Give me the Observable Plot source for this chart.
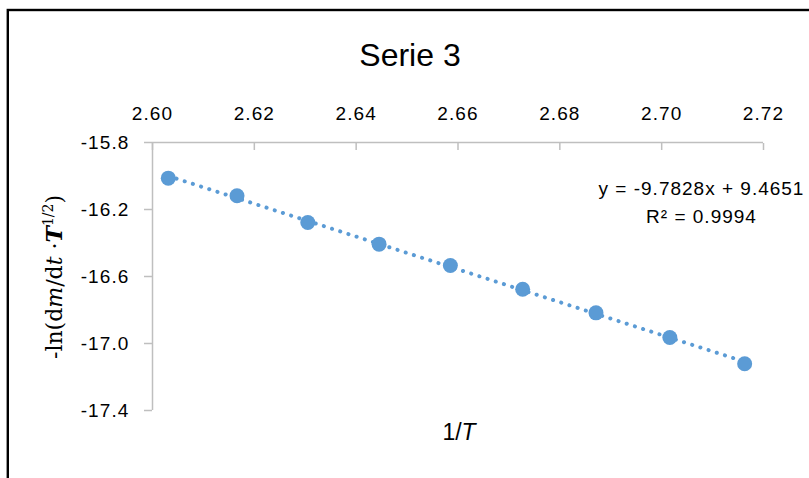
<!DOCTYPE html>
<html>
<head>
<meta charset="utf-8">
<script src="https://cdn.jsdelivr.net/npm/d3@7"></script>
<script src="https://cdn.jsdelivr.net/npm/@observablehq/plot@0.6"></script>
<style>
  html, body { margin: 0; padding: 0; background: #fff; }
  #chart svg { display: block; }
  #chart g[aria-label$="tick label"] text { letter-spacing: 1.1px; }
</style>
</head>
<body>
<div id="chart"></div>
<script>
const titleText = "Serie 3";
const xLabel = "1/T";
const invT = [2.6031, 2.6166, 2.6305, 2.6445, 2.6585, 2.6727, 2.6871, 2.7016, 2.7163];
const lnRate = [-16.013, -16.118, -16.278, -16.407, -16.534, -16.676, -16.817, -16.964, -17.121];
const xTicks = [2.60, 2.62, 2.64, 2.66, 2.68, 2.70, 2.72];
const yTicks = [-15.8, -16.2, -16.6, -17.0, -17.4];
const eqLine1 = "y = -9.7828x + 9.4651";
const eqLine2 = "R² = 0.9994";

const data = invT.map((x, i) => ({x, y: lnRate[i]}));
const blue = "#5b9bd5";
const axisGrey = "#bfbfbf";

const plot = Plot.plot({
  width: 809,
  height: 478,
  marginTop: 142,
  marginLeft: 152,
  marginRight: 46,
  marginBottom: 68,
  style: {background: "#fff", color: "#000", fontFamily: "'Liberation Sans', Arial, sans-serif"},
  x: {domain: [2.60, 2.72]},
  y: {domain: [-17.4, -15.8]},
  marks: [
    Plot.ruleY([-15.8], {stroke: axisGrey, strokeWidth: 1.5}),
    Plot.ruleX([2.60], {stroke: axisGrey, strokeWidth: 1.5}),
    Plot.axisX({anchor: "top", ticks: xTicks, tickFormat: d => d.toFixed(2), tickSize: -7, tickPadding: 30, stroke: axisGrey, strokeWidth: 1.5, fill: "#000", fontSize: 19, label: null}),
    Plot.axisY({anchor: "left", ticks: yTicks, tickFormat: d => d.toFixed(1), tickSize: 8, tickPadding: 15, stroke: axisGrey, strokeWidth: 1.5, fill: "#000", fontSize: 19, label: null}),
    Plot.linearRegressionY(data, {x: "x", y: "y", ci: 0, stroke: blue, strokeWidth: 4, strokeDasharray: "0.1,8.5", strokeLinecap: "round"}),
    Plot.dot(data, {x: "x", y: "y", r: 7.5, fill: blue})
  ]
});

const svg = d3.select(plot);

// chart border (only top and left visible in the reference)
svg.append("rect")
  .attr("x", 7.8).attr("y", 10).attr("width", 1200).attr("height", 1000)
  .attr("fill", "none").attr("stroke", "#000").attr("stroke-width", 2.4);

// title
svg.append("text")
  .attr("x", 410).attr("y", 66)
  .attr("text-anchor", "middle")
  .attr("font-family", "'Liberation Sans', Arial, sans-serif")
  .attr("font-size", 32)
  .attr("fill", "#000")
  .text(titleText);

// x label 1/T
const xl = svg.append("text")
  .attr("x", 459).attr("y", 440)
  .attr("text-anchor", "middle")
  .attr("font-family", "'Liberation Sans', Arial, sans-serif")
  .attr("font-size", 23)
  .attr("fill", "#000");
xl.append("tspan").text(xLabel.split("/")[0] + "/");
xl.append("tspan").attr("font-style", "italic").text(xLabel.split("/")[1]);

// y label
const yl = svg.append("text")
  .attr("transform", "translate(62,277) rotate(-90)")
  .attr("text-anchor", "middle")
  .attr("font-family", "'DejaVu Serif', 'Liberation Serif', serif")
  .attr("font-size", 22)
  .attr("fill", "#000");
yl.append("tspan").text("-ln(d");
yl.append("tspan").attr("font-style", "italic").text("m");
yl.append("tspan").text("/d");
yl.append("tspan").attr("font-style", "italic").text("t");
yl.append("tspan").text(" ·");
yl.append("tspan").attr("font-style", "italic").attr("font-weight", "bold").text("T");
yl.append("tspan").attr("font-size", 14).attr("dy", -9).text("1/2");
yl.append("tspan").attr("dy", 9).text(")");

// trendline equation
[eqLine1, eqLine2].forEach((t, i) => {
  svg.append("text")
    .attr("x", 701.5).attr("y", 195 + i * 28.3)
    .attr("text-anchor", "middle")
    .attr("font-family", "'Liberation Sans', Arial, sans-serif")
    .attr("font-size", 19)
    .attr("letter-spacing", "1px")
    .attr("fill", "#000")
    .text(t);
});

document.getElementById("chart").appendChild(plot);
</script>
</body>
</html>
